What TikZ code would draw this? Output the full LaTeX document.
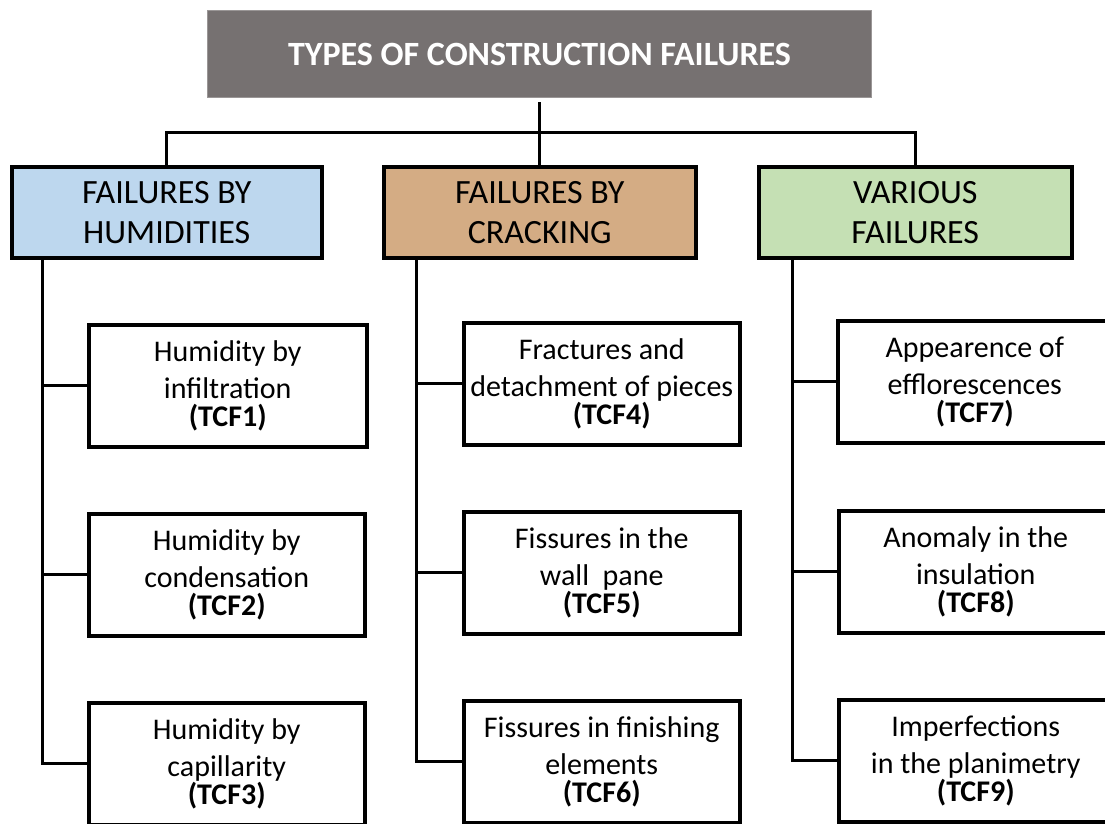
\documentclass[tikz,border=0pt]{standalone}
\usepackage{fontspec}
\setmainfont{Carlito}
\definecolor{titlegray}{HTML}{767171}
\definecolor{titleedge}{HTML}{9A9696}
\definecolor{humblue}{HTML}{BDD7EE}
\definecolor{cracktan}{HTML}{D4AC84}
\definecolor{variousgreen}{HTML}{C5E0B4}
\tikzset{
  titlebox/.style={fill=titlegray, draw=titleedge, line width=1pt, text=white,
    minimum width=664pt, minimum height=87pt, inner sep=0pt, anchor=north west,
    font=\fontsize{34}{40}\selectfont\bfseries},
  catbox/.style={draw=black, line width=3.5pt, minimum width=310pt, minimum height=91pt,
    inner sep=0pt, anchor=north west, align=center,
    font=\fontsize{34}{40}\selectfont},
  leafbox/.style={draw=black, line width=3.5pt, fill=white, minimum width=275pt, minimum height=122pt,
    inner sep=0pt, anchor=north west, align=center,
    font=\fontsize{30}{37}\selectfont},
  link/.style={draw=black, line width=3pt},
}
\newcommand{\tcf}[1]{\\[-9pt]\textbf{(#1)}}
\begin{document}
\begin{tikzpicture}[x=1pt,y=-1pt]
\useasboundingbox (0,0) rectangle (1105,823);
\clip (0,0) rectangle (1105,823);
\fill[white] (0,0) rectangle (1105,823);

\node[titlebox] (title) at (207,10) {TYPES OF CONSTRUCTION FAILURES};

\node[catbox, fill=humblue] (c1) at (10,165) {FAILURES BY\\HUMIDITIES};
\node[catbox, fill=cracktan, minimum width=312pt] (c2) at (382,165) {FAILURES BY\\CRACKING};
\node[catbox, fill=variousgreen, minimum width=313pt] (c3) at (757,165) {VARIOUS\\FAILURES};

\node[leafbox, minimum width=278pt] (t1) at (87,323) {Humidity by\\infiltration\tcf{TCF1}};
\node[leafbox, minimum width=276pt] (t2) at (87,512) {Humidity by\\condensation\tcf{TCF2}};
\node[leafbox, minimum width=276pt] (t3) at (87,701) {Humidity by\\capillarity\tcf{TCF3}};

\node[leafbox, minimum width=276pt] (t4) at (462,321) {Fractures and\\detachment of pieces\\[-9pt]\hspace*{20pt}\textbf{(TCF4)}};
\node[leafbox, minimum width=276pt] (t5) at (462,510) {Fissures in the\\wall\ \ pane\tcf{TCF5}};
\node[leafbox, minimum width=276pt] (t6) at (462,699) {Fissures in finishing\\elements\tcf{TCF6}};

\node[leafbox, minimum width=274pt] (t7) at (836,319) {Appearence of\\efflorescences\tcf{TCF7}};
\node[leafbox, minimum width=274pt] (t8) at (837,509) {Anomaly in the\\insulation\tcf{TCF8}};
\node[leafbox, minimum width=274pt] (t9) at (837,698) {Imperfections\\in the planimetry\tcf{TCF9}};

% top connectors
\coordinate (bar) at (540,132);
\coordinate (tstart) at (540,102);
\draw[link] (c2.north |- tstart) -- (c2.north);
\draw[link] (c1.north) -- (c1.north |- bar) -- (c3.north |- bar) -- (c3.north);

% trunks
\coordinate (k1) at (42,257);
\coordinate (k2) at (416,256);
\coordinate (k3) at (792,256);
\draw[link] (k1) |- (t1.west);
\draw[link] (k1) |- (t2.west);
\draw[link] (k1) |- (t3.west);
\draw[link] (k2) |- (t4.west);
\draw[link] (k2) |- (t5.west);
\draw[link] (k2) |- (t6.west);
\draw[link] (k3) |- (t7.west);
\draw[link] (k3) |- (t8.west);
\draw[link] (k3) |- (t9.west);
\end{tikzpicture}
\end{document}
